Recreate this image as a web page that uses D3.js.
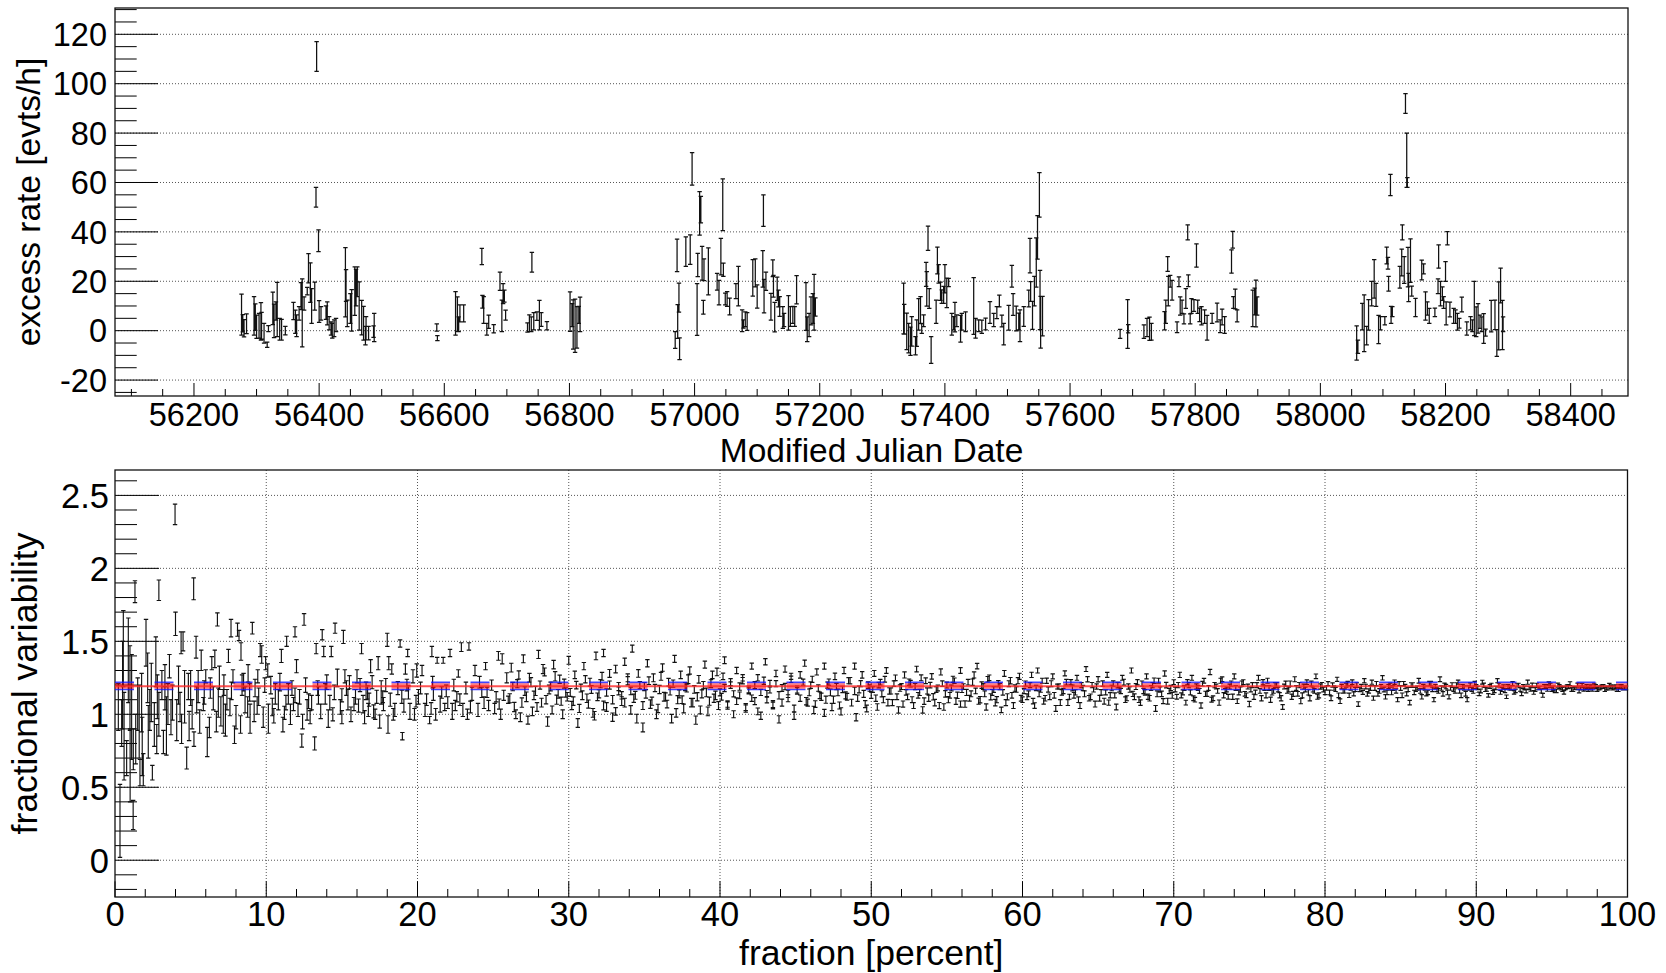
<!DOCTYPE html>
<html><head><meta charset="utf-8">
<script src="https://cdn.jsdelivr.net/npm/d3@7/dist/d3.min.js"></script>
<style>
html,body{margin:0;padding:0;background:#fff;overflow:hidden;}
svg{display:block;}
text{font-family:"Liberation Sans",Arial,Helvetica,sans-serif;fill:#000;}
</style></head><body>
<svg id="chart" width="1666" height="973"></svg>
<script>
// ================= DATA =================
// --- light curve (top panel): MJD, excess rate [evts/h], error ---
const lcMJD=[
56276,56278,56280,56284,56296,56298,56300,56304,56307,56308,
56312,56317,56319,56326,56328,56331,56333,56337,56340,56346,
56359,56362,56364,56368,56371,56373,56376,56381,56383,56386,
56388,56393,56395,56396,56399,56400,56403,56411,56413,56416,
56419,56421,56424,56427,56442,56443,56445,56450,56452,56457,
56459,56461,56464,56468,56471,56474,56475,56479,56487,56488,
56588,56589,56618,56621,56623,56625,56631,56660,56661,56663,
56668,56671,56679,56689,56692,56694,56696,56698,56733,56736,
56739,56740,56743,56748,56752,56755,56764,56801,56804,56806,
56809,56812,56815,56817,
56969,56972,56973,56975,56976,56986,56993,56996,57004,57005,
57008,57010,57012,57014,57015,57022,57036,57039,57042,57045,
57046,57049,57052,57056,57066,57070,57076,57078,57081,57084,
57093,57097,57100,57109,57110,57111,57114,57122,57125,57126,
57128,57132,57134,57136,57141,57143,57150,57153,57157,57160,
57163,57178,57180,57183,57186,57189,57191,57193,
57334,57335,57339,57342,57345,57347,57353,57355,57358,57361,
57363,57366,57370,57371,57373,57375,57378,57386,57388,57390,
57393,57395,57398,57400,57403,57406,57411,57414,57416,57419,
57425,57427,57433,57446,57449,57454,57459,57465,57472,57478,
57483,57487,57491,57494,57502,57507,57509,57514,57518,57520,
57526,57534,57536,57537,57540,57543,57546,57548,57551,57552,
57553,57556,
57680,57692,57693,57718,57723,57727,57730,57751,57753,57756,
57757,57760,57763,57771,57774,57776,57779,57782,57785,57788,
57789,57792,57794,57798,57802,57804,57807,57810,57815,57819,
57827,57835,57840,57843,57847,57858,57860,57861,57864,57867,
57892,57895,57897,57899,
58058,58060,58067,58070,58074,58077,58082,58086,58089,58093,
58096,58103,58106,58108,58109,58112,58113,58115,58127,58130,
58131,58134,58136,58138,58139,58140,58141,58144,58146,58152,
58162,58165,58168,58171,58174,58183,58188,58189,58192,58195,
58197,58200,58201,58203,58207,58213,58216,58219,58222,58226,
58234,58240,58243,58246,58249,58252,58255,58258,58261,58264,
58273,58279,58282,58285,58288,58291,58292];
const lcRate=[
6.5,3,1,2.8,6,5.5,1.6,2,3.8,2,
-1,-5.7,0.8,9,4,8,8.6,0.6,0.4,0,
8,3.6,2,7,14,7.2,11,16,25.3,19.5,
10,14,54,111,36.4,7.8,7,7.3,7,3,
0.9,0,1,2.3,19.6,18.3,7,9,8.2,16,
17.4,19.8,10,5.3,3,-2,1,-1,-0.4,1.3,
1.3,-3,7,6.7,2.6,7,7,30,11.7,8.4,
0.6,3.6,0.8,20,6,15,14,6.3,1.3,3,
2.6,27.7,3.8,5.9,6.3,4.5,2,7.7,6.3,2.5,
2,1.3,6.4,6.6,
-3.8,30.5,3.7,13.4,-7.3,32,32.8,65.5,8.6,26.6,
47.5,49,27.3,9.5,24.7,24,19.8,15.4,30,51,
24.7,12.8,12.8,9.8,16,18,4,2.7,4.6,3.7,
21.4,23.4,13.8,25,48.6,14,20,9.7,25.3,18,
5.5,17,13,9.8,5.3,4.3,7.2,5.7,6.4,5.7,
16.6,9.8,0.6,2.3,8,9,11.5,9.6,
9,4.6,-0.3,-3,-4.3,-0.3,-6.1,-1,6.6,8.4,
0.9,4,22.8,16.9,37.4,13,-7.8,7.7,28.4,23,
16,13.8,14.5,21,15.3,19.5,2.6,3,5.5,4,
0.8,3.6,3.6,10,1,2,1.6,2.7,7.4,4.3,
7.3,12,3.9,-1.4,5.2,22,10.6,4.9,3.7,2,
5.7,13,30.4,15.9,6.2,16,27.6,37.8,55,12.4,
3.4,5.9,
-1.3,2.7,0.8,-0.4,1.3,0.8,-0.4,4,7.7,27,
16,20,16.4,1.4,19.8,10,9.7,4.8,13,39.8,
20.2,4.8,10,10.2,30.4,9.7,6.4,6,5.7,1.2,
5,7.4,1.8,5.5,2.3,28,36.8,11.4,12.8,6,
9,11.8,11,10,
-5,-6.5,5.7,3,-2,6.4,15,21,14.5,0.5,
3,4,30.4,27.3,19,59,6.4,7.7,21.6,27.6,
39.8,24.6,92,69,60,25.7,17.5,28.4,16,9.4,
24.6,25,10,9,6,7.4,18,30,15,15,
11.4,24,7,37.4,8.6,6,5.7,3.6,3,10.6,
0.9,3,2,9,3.6,5,3.6,2.6,0.9,-0.8,
5.9,6.4,-5,6,18.3,2.3,2.6];
const lcErr=[
8.3,3.5,3.5,4,7.8,5.4,4.7,5,7.6,5.4,
4,1.1,1.2,6.6,6.8,3.7,11,4.4,4.2,1.7,
3.5,4.7,4.4,2.7,5.5,13.8,2.7,1.5,5.9,8,
7,5.7,4,6,4.4,4.4,2.7,2.7,4.7,2.7,
2.7,3,3.4,2.7,14,6.4,5.4,6,8.4,9.8,
7.4,6,9.8,7,6.8,3.7,4.7,2.7,2.3,5.7,
1.5,1,8.8,7,3,3.4,3.4,3.3,2.6,5.4,
2.4,2.7,1.7,3.7,6.4,4,2.4,2,1.9,3.4,
3,4,3.5,1.7,6,2.8,1.7,8,4.7,10,
10.8,8.4,3.4,7,
3.4,6.6,6.8,5.9,4.4,6,6,6.6,10.5,4.7,
8.8,5.4,6.8,2.8,4.4,9.5,3.4,5,7.4,10.5,
2.7,2.4,3,3.4,3,8,4.4,1.7,3,3.6,
7.4,5.7,4.7,7.4,6.4,6.8,3.7,5.4,3.4,4.4,
6,4.7,3.4,4,4.4,2.7,7,4,3.4,4,
5.7,9.7,5,4.7,5.7,6,11.3,3.7,
10.3,6,7.4,6,5.7,6,3.7,5.4,6.4,5.4,
2,2.4,4.9,7,4.9,4,5.4,4.7,5.4,3.7,
3.7,2.7,3.4,5.7,6,1.7,4.4,2.7,6,2.4,
5.4,3.4,4,11.5,4,2.4,2.7,2.4,4.4,2.7,
2.4,2.4,2.4,4.4,5,4.4,4.4,5,3.4,6.4,
4,3.4,7,4,5.7,6,10,8.8,9,12,
10.5,8,
1.8,9.9,1.7,2.7,3.7,4.7,3.4,3.7,4.7,3,
6,2.4,4,2.2,2,3.7,2.7,2,4,3,
2.4,2,3,2.4,4.7,2.7,2.7,3.7,2.7,5,
2,3.8,2.6,3.2,3.4,4.7,3.4,2.4,4,2.4,
7.4,5.4,9.5,3.7,
6.9,2.7,5.4,11.5,3.7,6.2,5,7.8,4.7,5.7,
2.7,1.7,3.4,2.4,3,4.3,3.4,2,4.4,5.4,
3,5.4,4,11,2,8,5.7,8.8,2,3.7,
4,2,5.7,2.7,3,1.7,3,4.7,5,2.7,
2.4,4,4.7,2.7,3,3,2.7,3.4,2,3,
2.7,2.7,2.4,11,6,6,2.7,3,6,1.4,
6.4,6,5.4,13.8,7,10,3];

// --- fractional variability (bottom panel): fraction [%], Fvar, error ---
const fvPct=[
0.22,0.33,0.44,0.55,0.77,0.88,0.99,1.2,1.1,1.21,
1.32,1.37,1.5,1.65,1.76,1.87,2.05,2.16,2.3,2.47,
2.6,2.7,2.76,2.9,3.1,3.2,3.3,3.4,3.5,3.6,
3.97,4.0,4.08,4.2,4.37,4.5,4.6,4.74,4.85,5.0,
5.2,5.22,5.36,5.5,5.7,5.84,6.0,6.1,6.24,6.4,
6.5,6.6,6.77,6.83,7.0,7.16,7.3,7.5,7.67,7.7,
7.8,7.9,8.1,8.2,8.33,8.5,8.6,8.77,8.93,9.08,
9.26,9.44,9.6,9.7,9.8,9.96,10.1,10.14,10.6,10.8,
11.0,11.2,11.35,11.46,11.6,11.8,11.9,12.0,12.1,12.35,
12.5,12.7,12.9,13.2,13.3,13.45,13.7,13.8,13.9,14.1,
14.3,14.55,14.7,15.0,15.1,15.2,15.4,15.8,16.0,16.3,
16.4,16.6,16.75,16.9,17.2,17.4,17.6,17.75,18.0,18.05,
18.1,18.3,18.5,18.85,18.96,19.0,19.2,19.35,19.5,19.7,
19.95,20.06,20.3,20.5,20.8,20.95,21.05,21.3,21.5,21.7,
21.8,22.15,22.3,22.5,22.7,22.9,23.0,23.4,23.6,23.8,
24.0,24.25,24.5,24.7,25.1,25.35,25.6,25.7,26.0,
0.6,1.6,2.4,2.9,3.8,4.4,5.1,5.6,6.3,6.9,
7.4,8.0,8.4,8.8,9.2,9.5,10.3,10.4,10.9,11.1,
11.7,12.2,12.6,13.0,13.6,14.0,14.2,14.5,14.9,15.3,
15.6,15.9,16.2,16.5,16.8,17.0,17.3,17.5,17.9,18.2,
18.7,19.1,19.4,19.8,20.2,20.6,21.0,21.2,21.6,22.0,
22.4,22.8,23.2,23.5,24.1,24.4,24.9,25.2,25.5,25.9,
0.5,1.0,1.8,2.2,2.8,3.3,3.7,4.3,4.9,5.4,
5.9,6.7,7.2,7.6,8.3,8.9,9.4,9.9,10.5,11.3,
11.9,12.4,12.8,13.4,14.4,15.0,15.5,16.1,16.7,17.1,
17.7,18.4,19.3,19.9,20.9,21.9,22.6,23.3,24.6,25.4,
26.2,26.4,26.6,26.8,27.0,27.2,27.4,27.6,27.8,28.0,
28.2,28.4,28.6,28.8,29.0,29.2,29.4,29.6,29.8,30.0,
30.2,30.4,30.6,30.8,31.0,31.2,31.4,31.6,31.8,32.0,
32.2,32.3,32.5,32.7,32.9,33.1,33.3,33.5,33.7,33.9,
34.1,34.2,34.4,34.6,34.9,35.0,35.2,35.4,35.6,35.8,
36.0,36.2,36.4,36.6,36.8,37.0,37.2,37.4,37.6,37.8,
38.0,38.2,38.4,38.6,38.8,39.0,39.2,39.4,39.6,39.8,
40.0,40.2,40.3,40.5,40.7,40.9,41.1,41.3,41.5,41.7,
41.9,42.1,42.3,42.5,42.7,43.0,43.1,43.3,43.5,43.7,
43.9,44.1,44.3,44.5,44.7,44.9,45.1,45.3,45.6,45.8,
46.0,46.2,46.4,46.6,46.9,47.0,47.2,47.4,47.6,47.8,
48.0,48.2,48.4,48.6,48.9,49.0,49.2,49.4,49.6,49.8,
50.0,50.2,50.4,50.6,50.8,51.0,51.2,51.4,51.6,51.8,
52.0,52.2,52.4,52.6,52.8,53.0,53.2,53.4,53.6,53.8,
54.0,54.2,54.4,54.6,54.8,55.0,55.2,55.4,55.6,55.9,
56.0,56.2,56.4,56.6,56.8,57.0,57.2,57.4,57.6,57.8,
58.0,58.2,58.4,58.6,58.8,59.0,59.2,59.4,59.6,59.8,
60.0,60.2,60.4,60.6,60.8,61.0,61.2,61.4,61.6,61.8,
62.0,62.2,62.4,62.6,62.8,63.0,63.2,63.4,63.6,63.8,
64.0,64.2,64.4,64.6,64.8,65.0,65.2,65.4,65.6,65.8,
66.0,66.2,66.4,66.6,66.8,67.0,67.2,67.4,67.6,67.8,
68.0,68.2,68.4,68.6,68.8,69.0,69.2,69.4,69.6,69.8,
70.0,70.2,70.4,70.6,70.8,71.0,71.2,71.4,71.6,71.8,
72.0,72.2,72.4,72.6,72.8,73.0,73.2,73.4,73.6,73.8,
74.0,74.2,74.4,74.6,74.8,75.0,75.2,75.4,75.6,75.8,
76.0,76.2,76.4,76.6,76.8,77.0,77.2,77.4,77.6,77.8,
78.0,78.2,78.4,78.6,78.8,79.0,79.2,79.4,79.6,79.8,
80.0,80.2,80.4,80.6,80.8,81.0,81.2,81.4,81.6,81.8,
82.0,82.2,82.4,82.6,82.8,83.0,83.2,83.4,83.6,83.8,
84.0,84.2,84.4,84.6,84.8,85.0,85.2,85.4,85.6,85.8,
86.0,86.2,86.4,86.6,86.8,87.0,87.2,87.4,87.6,87.8,
88.0,88.2,88.4,88.6,88.8,89.0,89.2,89.4,89.6,89.8,
90.0,90.2,90.4,90.6,90.8,91.0,91.2,91.4,91.6,91.8,
92.0,92.2,92.4,92.6,92.8,93.0,93.2,93.4,93.6,93.8,
94.0,94.2,94.4,94.6,94.8,95.0,95.2,95.4,95.6,95.8,
96.0,96.2,96.4,96.6,96.8,97.0,97.2,97.4,97.6,97.8,
98.0,98.2,98.4,98.6,98.8,99.0,99.2,99.4,99.6,99.8,
26.1,26.3,26.5,26.7,26.9,27.1,27.3,27.5,27.7,27.9,
28.1,28.3,28.5,28.7,28.9,29.1,29.3,29.5,29.7,29.9,
30.1,30.3,30.5,30.7,30.9,31.1,31.3,31.5,31.7,31.9,
32.1,32.3,32.5,32.7,32.9,33.1,33.3,33.5,33.7,33.9,
34.1,34.3,34.5,34.7,34.9,35.1,35.3,35.5,35.7,35.9,
36.1,36.3,36.5,36.7,36.9,37.1,37.3,37.5,37.7,37.9,
38.1,38.3,38.5,38.7,38.9,39.1,39.3,39.5,39.7,39.9,
40.1,40.3,40.5,40.7,40.9,41.1,41.3,41.5,41.7,41.9,
42.1,42.3,42.5,42.7,42.9,43.1,43.3,43.5,43.7,43.9,
44.1,44.3,44.5,44.7,44.9,45.1,45.3,45.5,45.7,45.9,
46.1,46.3,46.5,46.7,46.9,47.1,47.3,47.5,47.7,47.9,
48.1,48.3,48.5,48.7,48.9,49.1,49.3,49.5,49.7,49.9,
50.1,50.3,50.5,50.7,50.9,51.1,51.3,51.5,51.7,51.9,
52.1,52.3,52.5,52.7,52.9,53.1,53.3,53.5,53.7,53.9,
54.1,54.3,54.5,54.7,54.9,55.1,55.3,55.5,55.7,55.9,
56.1,56.3,56.5,56.7,56.9,57.1,57.3,57.5,57.7,57.9,
58.1,58.3,58.5,58.7,58.9,59.1,59.3,59.5,59.7,59.9,
60.1,60.3,60.5,60.7,60.9,61.1,61.3,61.5,61.7,61.9,
62.1,62.3,62.5,62.7,62.9,63.1,63.3,63.5,63.7,63.9,
64.1,64.3,64.5,64.7,64.9,65.1,65.3,65.5,65.7,65.9,
66.1,66.3,66.5,66.7,66.9,67.1,67.3,67.5,67.7,67.9,
68.1,68.3,68.5,68.7,68.9,69.1,69.3,69.5,69.7,69.9,
70.1,70.3,70.5,70.7,70.9,71.1,71.3,71.5,71.7,71.9,
72.1,72.3,72.5,72.7,72.9,73.1,73.3,73.5,73.7,73.9,
74.1,74.3,74.5,74.7,74.9,75.1,75.3,75.5,75.7,75.9,
76.1,76.3,76.5,76.7,76.9,77.1,77.3,77.5,77.7,77.9,
78.1,78.3,78.5,78.7,78.9,79.1,79.3,79.5,79.7,79.9,
80.1,80.3,80.5,80.7,80.9,81.1,81.3,81.5,81.7,81.9,
82.1,82.3,82.5,82.7,82.9,83.1,83.3,83.5,83.7,83.9,
84.1,84.3,84.5,84.7,84.9,85.1,85.3,85.5,85.7,85.9,
86.1,86.3,86.5,86.7,86.9,87.1,87.3,87.5,87.7,87.9,
88.1,88.3,88.5,88.7,88.9,89.1,89.3,89.5,89.7,89.9,
90.1,90.3,90.5,90.7,90.9,91.1,91.3,91.5,91.7,91.9,
92.1,92.3,92.5,92.7,92.9,93.1,93.3,93.5,93.7,93.9,
94.1,94.3,94.5,94.7,94.9,95.1,95.3,95.5,95.7,95.9,
96.1,96.3,96.5,96.7,96.9,97.1,97.3,97.5,97.7,97.9,
98.1,98.3,98.5,98.7,98.9,99.1,99.3,99.5,99.7,99.9];
const fvVal=[
1.05,0.27,0.94,1.45,0.70,1.37,1.18,0.31,1.05,0.76,
1.84,0.83,1.07,0.6,1.08,0.62,1.49,1.25,1.03,0.6,
0.93,1.36,0.83,1.85,1.2,0.81,1.11,0.92,1.07,1.33,
2.37,1.62,0.96,1.2,1.49,1.5,1.12,0.7,1.19,1.18,
1.86,0.83,1.46,1.19,1.37,1.07,1.26,0.81,0.91,1.35,
1.11,1.38,1.65,1.08,1.02,1.02,0.96,1.4,1.59,1.16,
1.26,0.86,1.58,1.54,1.43,1.22,1.1,1.05,0.97,1.59,
1.18,1.26,1.44,1.41,0.98,1.35,1.3,0.97,1.14,1.1,
1.4,1.01,1.5,1.14,1.0,1.07,1.565,1.33,1.03,0.82,
1.65,1.03,0.98,0.8,1.45,1.13,1.545,1.43,1.14,0.97,
1.43,1.59,1.25,0.98,1.53,1.26,1.1,1.07,1.26,1.45,
1.07,1.16,1.03,1.33,1.0,1.35,1.15,1.07,1.51,0.93,
1.35,1.31,1.03,1.485,1.12,0.85,1.31,1.42,1.02,1.26,
1.3,1.12,1.3,1.03,0.96,1.43,1.14,1.37,1.07,1.37,
1.05,1.42,1.02,1.06,1.28,1.46,1.03,1.465,1.14,1.3,
1.03,1.15,1.33,1.06,1.04,1.4,1.38,1.13,1.1,
0.85,0.95,1.15,1.0,1.08,0.9,1.0,0.95,1.18,1.25,
1.1,0.98,1.2,1.28,1.02,1.12,1.2,1.05,1.22,0.93,
1.18,1.12,1.2,1.08,1.02,1.22,1.08,1.15,1.05,1.18,
1.0,1.12,1.2,0.98,1.1,1.22,1.12,0.95,1.2,1.1,
1.18,1.06,1.15,1.0,1.18,1.1,1.22,1.0,1.15,1.08,
1.2,1.1,1.18,1.05,1.22,1.08,1.2,1.12,1.0,1.25,
1.2,0.65,0.78,0.88,1.12,1.22,0.98,1.05,0.92,1.1,
1.15,0.95,1.2,1.05,0.93,1.15,1.06,1.2,0.99,1.08,
1.13,0.95,1.09,1.18,1.0,1.13,1.22,1.06,1.15,1.02,
1.12,1.0,1.2,1.09,1.04,1.16,1.12,1.0,1.15,1.07,
1.32,1.05,1.21,0.98,1.38,1.12,1.25,1.02,1.16,1.41,
1.08,1.29,0.95,1.19,1.34,1.1,1.24,1.0,1.15,1.37,
1.06,1.27,0.94,1.18,1.33,1.11,1.22,1.01,1.4,1.14,
1.26,1.42,1.05,1.2,0.98,1.31,1.16,1.09,1.36,1.23,
1.03,1.45,1.13,1.28,0.91,1.19,1.35,1.07,1.25,1.0,
1.17,1.32,1.12,1.22,0.97,1.38,1.1,1.27,1.04,1.18,
1.3,1.08,0.96,1.24,1.14,1.34,1.02,1.21,1.11,1.29,
1.15,1.26,1.37,1.06,1.2,1.0,1.3,1.13,1.23,1.04,
1.17,1.33,1.09,1.25,0.99,1.36,1.14,1.21,1.07,1.28,
0.965,1.18,1.31,1.11,1.24,0.99,1.16,1.27,1.35,1.08,
1.2,1.03,1.29,1.13,1.33,1.1,1.22,1.05,1.26,1.15,
1.02,1.3,1.12,1.23,1.33,0.98,1.17,1.27,1.07,1.2,
1.13,1.28,1.05,1.22,1.1,1.3,1.16,1.08,1.25,1.03,
1.19,1.27,1.12,1.21,1.06,1.31,1.15,1.03,1.23,1.11,
1.26,1.08,1.18,1.29,1.05,1.2,1.13,1.24,1.09,1.3,
1.17,1.07,1.22,1.14,1.27,1.33,1.1,1.19,1.05,1.25,
1.15,1.08,1.21,1.03,1.28,1.12,1.23,1.06,1.17,1.26,
1.1,1.21,1.14,1.27,1.06,1.3,1.17,1.09,1.23,1.12,
1.26,1.04,1.19,1.15,1.28,1.08,1.22,1.13,1.25,1.06,
1.18,1.31,1.11,1.2,1.07,1.24,1.15,1.09,1.27,1.13,
1.21,1.05,1.17,1.25,1.1,1.19,1.3,1.12,1.22,1.08,
1.16,1.26,1.11,1.2,1.04,1.23,1.14,1.28,1.09,1.18,
1.22,1.12,1.27,1.15,1.08,1.2,1.25,1.1,1.18,1.06,
1.23,1.14,1.29,1.11,1.19,1.08,1.24,1.16,1.12,1.21,
1.26,1.09,1.17,1.22,1.13,1.07,1.2,1.15,1.25,1.11,
1.18,1.23,1.1,1.16,1.2,1.13,1.05,1.21,1.17,1.12,
1.24,1.14,1.09,1.19,1.22,1.11,1.17,1.26,1.13,1.2,
1.15,1.21,1.11,1.18,1.24,1.09,1.16,1.2,1.13,1.22,
1.17,1.07,1.19,1.23,1.14,1.18,1.11,1.21,1.16,1.25,
1.12,1.19,1.15,1.22,1.1,1.18,1.21,1.14,1.08,1.2,
1.17,1.23,1.12,1.18,1.15,1.21,1.1,1.17,1.24,1.14,
1.19,1.12,1.2,1.16,1.22,1.13,1.18,1.1,1.2,1.16,
1.19,1.14,1.22,1.17,1.13,1.2,1.16,1.23,1.15,1.19,
1.12,1.18,1.21,1.16,1.2,1.14,1.18,1.22,1.17,1.15,
1.2,1.18,1.13,1.19,1.21,1.17,1.16,1.2,1.18,1.15,
1.19,1.21,1.17,1.18,1.16,1.2,1.18,1.17,1.19,1.2,
1.17,1.18,1.19,1.18,1.2,1.18,1.19,1.17,1.19,1.18,
1.11,1.19,1.0,1.27,1.08,1.16,0.96,1.22,1.13,1.05,
1.2,1.31,1.1,1.17,1.03,1.26,1.14,1.09,1.21,1.12,
1.15,1.09,1.2,1.04,1.13,1.24,1.07,1.17,0.99,1.12,
1.21,1.06,1.15,1.28,1.1,1.02,1.19,1.13,1.08,1.25,
1.16,1.11,0.97,1.2,1.06,1.14,1.23,1.09,1.18,1.04,
1.26,1.12,1.07,1.16,1.21,1.01,1.14,1.1,1.19,1.24,
1.08,1.17,1.12,1.03,1.2,1.15,1.09,1.27,1.13,1.06,
1.12,1.18,1.07,1.22,1.14,1.09,1.19,1.25,1.05,1.16,
1.11,1.2,1.02,1.15,1.23,1.1,1.17,1.06,1.21,1.13,
1.08,1.19,1.14,1.26,1.04,1.17,1.11,1.22,1.09,1.15,
1.24,1.07,1.18,1.12,1.01,1.2,1.15,1.1,1.19,1.06,
1.17,1.13,1.23,1.08,1.16,1.11,1.21,1.14,1.04,1.18,
1.17,1.11,1.2,1.14,1.24,1.08,1.16,1.21,1.12,1.18,
1.07,1.15,1.22,1.1,1.19,1.13,1.25,1.09,1.16,1.2,
1.12,1.17,1.06,1.21,1.14,1.1,1.18,1.23,1.13,1.07,
1.19,1.15,1.11,1.22,1.16,1.09,1.2,1.14,1.24,1.12,
1.17,1.1,1.19,1.15,1.08,1.21,1.13,1.18,1.23,1.11,
1.16,1.12,1.2,1.09,1.18,1.14,1.23,1.11,1.17,1.21,
1.13,1.19,1.08,1.16,1.22,1.12,1.18,1.15,1.1,1.2,
1.14,1.24,1.12,1.17,1.19,1.11,1.21,1.15,1.08,1.18,
1.13,1.2,1.16,1.22,1.11,1.17,1.14,1.19,1.1,1.21,
1.15,1.12,1.18,1.23,1.14,1.17,1.09,1.2,1.16,1.13,
1.17,1.2,1.13,1.18,1.22,1.15,1.11,1.19,1.16,1.21,
1.14,1.18,1.1,1.2,1.16,1.23,1.13,1.17,1.19,1.12,
1.18,1.15,1.21,1.14,1.19,1.17,1.12,1.2,1.16,1.22,
1.13,1.18,1.15,1.2,1.17,1.11,1.19,1.16,1.21,1.14,
1.18,1.2,1.13,1.17,1.15,1.21,1.16,1.12,1.19,1.17,
1.18,1.15,1.2,1.17,1.13,1.19,1.16,1.21,1.18,1.14,
1.2,1.17,1.15,1.19,1.16,1.22,1.18,1.14,1.19,1.17,
1.15,1.2,1.18,1.16,1.21,1.13,1.19,1.17,1.2,1.15,
1.18,1.16,1.19,1.14,1.21,1.17,1.19,1.16,1.18,1.2,
1.15,1.18,1.17,1.2,1.16,1.19,1.14,1.18,1.17,1.21,
1.18,1.16,1.2,1.17,1.19,1.15,1.18,1.2,1.17,1.16,
1.19,1.18,1.15,1.2,1.17,1.19,1.16,1.18,1.2,1.17,
1.18,1.16,1.19,1.17,1.2,1.18,1.16,1.19,1.17,1.18,
1.19,1.17,1.18,1.2,1.18,1.17,1.19,1.18,1.17,1.19,
1.18,1.19,1.17,1.18,1.19,1.18,1.17,1.19,1.18,1.18];
const fvErr=[
0.16,0.25,0.16,0.26,0.12,0.29,0.29,0.10,0.36,0.14,
0.075,0.17,0.18,0.09,0.2,0.11,0.16,0.17,0.14,0.05,
0.15,0.17,0.1,0.07,0.1,0.08,0.08,0.2,0.14,0.08,
0.07,0.08,0.14,0.13,0.075,0.065,0.18,0.075,0.09,0.12,
0.075,0.05,0.075,0.11,0.07,0.045,0.045,0.1,0.07,0.045,
0.08,0.06,0.045,0.1,0.1,0.15,0.11,0.045,0.06,0.06,
0.045,0.06,0.045,0.035,0.06,0.06,0.09,0.07,0.1,0.04,
0.06,0.045,0.045,0.06,0.07,0.045,0.045,0.1,0.07,0.07,
0.045,0.045,0.035,0.07,0.07,0.045,0.035,0.045,0.045,0.045,
0.04,0.07,0.045,0.045,0.035,0.06,0.035,0.035,0.07,0.06,
0.035,0.035,0.06,0.045,0.045,0.045,0.07,0.045,0.045,0.035,
0.06,0.06,0.045,0.045,0.035,0.045,0.08,0.045,0.045,0.06,
0.045,0.035,0.045,0.025,0.045,0.025,0.035,0.025,0.055,0.045,
0.045,0.05,0.035,0.045,0.025,0.035,0.045,0.02,0.055,0.02,
0.025,0.025,0.055,0.035,0.025,0.03,0.045,0.025,0.045,0.035,
0.045,0.035,0.025,0.035,0.035,0.03,0.035,0.035,0.025,
0.3,0.25,0.2,0.15,0.12,0.1,0.1,0.08,0.07,0.08,
0.07,0.08,0.07,0.06,0.07,0.06,0.06,0.06,0.06,0.05,
0.05,0.05,0.05,0.05,0.05,0.05,0.05,0.05,0.05,0.05,
0.05,0.05,0.045,0.045,0.045,0.045,0.045,0.045,0.045,0.045,
0.045,0.045,0.045,0.04,0.04,0.04,0.04,0.04,0.04,0.04,
0.04,0.04,0.04,0.04,0.04,0.04,0.035,0.035,0.035,0.035,
0.3,0.25,0.2,0.18,0.15,0.12,0.12,0.1,0.1,0.09,
0.08,0.07,0.07,0.06,0.06,0.06,0.06,0.05,0.05,0.05,
0.05,0.05,0.05,0.05,0.045,0.045,0.045,0.045,0.045,0.045,
0.04,0.04,0.04,0.04,0.04,0.04,0.035,0.035,0.035,0.035,
.03,.032,.028,.03,.027,.033,.03,.029,.031,.028,
.03,.027,.032,.03,.029,.031,.028,.03,.032,.027,
.028,.026,.03,.027,.025,.029,.027,.03,.026,.028,
.027,.025,.03,.028,.029,.026,.027,.03,.025,.028,
.029,.024,.027,.026,.03,.028,.025,.029,.027,.03,
.028,.025,.027,.026,.029,.024,.028,.026,.03,.027,
.025,.029,.028,.026,.027,.024,.03,.027,.028,.026,
.024,.022,.023,.025,.022,.024,.021,.023,.022,.025,
.023,.021,.024,.022,.025,.021,.023,.022,.024,.022,
.025,.023,.021,.024,.022,.025,.023,.022,.021,.024,
.022,.025,.021,.023,.021,.024,.022,.025,.022,.023,
.025,.021,.023,.022,.021,.025,.023,.022,.024,.022,
.021,.02,.022,.019,.021,.02,.022,.021,.019,.022,
.02,.021,.019,.022,.02,.019,.021,.022,.02,.021,
.019,.022,.02,.021,.022,.02,.019,.021,.022,.02,
.021,.022,.019,.02,.021,.019,.022,.02,.021,.019,
.02,.022,.021,.019,.02,.021,.022,.02,.019,.021,
.019,.018,.02,.018,.019,.017,.019,.02,.018,.019,
.017,.02,.018,.019,.017,.02,.018,.019,.017,.02,
.018,.017,.019,.018,.02,.018,.019,.02,.017,.018,
.019,.02,.018,.017,.019,.018,.017,.02,.018,.019,
.018,.017,.019,.018,.02,.017,.019,.018,.02,.018,
.017,.016,.018,.017,.016,.018,.017,.016,.017,.018,
.016,.017,.018,.016,.017,.018,.016,.017,.016,.018,
.017,.016,.018,.017,.016,.018,.017,.016,.017,.018,
.016,.017,.018,.016,.017,.018,.016,.017,.016,.018,
.017,.016,.018,.017,.016,.018,.017,.016,.017,.018,
.015,.014,.016,.015,.014,.016,.015,.014,.015,.016,
.014,.016,.015,.014,.015,.016,.014,.015,.016,.015,
.015,.014,.016,.015,.014,.016,.015,.014,.015,.016,
.014,.016,.015,.014,.015,.016,.014,.015,.016,.015,
.015,.014,.016,.015,.014,.016,.015,.014,.015,.016,
.013,.012,.013,.014,.012,.013,.012,.014,.013,.012,
.012,.013,.014,.012,.013,.012,.013,.014,.012,.013,
.013,.012,.013,.014,.012,.013,.012,.014,.013,.012,
.012,.013,.014,.012,.013,.012,.013,.014,.012,.013,
.013,.012,.013,.014,.012,.013,.012,.014,.013,.012,
.031,.029,.03,.028,.032,.03,.027,.031,.029,.03,
.028,.031,.029,.03,.027,.032,.03,.028,.031,.029,
.027,.029,.026,.028,.03,.025,.028,.027,.029,.026,
.028,.03,.025,.027,.029,.026,.028,.025,.03,.027,
.026,.028,.03,.025,.027,.029,.026,.028,.025,.029,
.027,.03,.026,.028,.025,.029,.027,.026,.028,.03,
.029,.026,.028,.027,.025,.03,.028,.026,.029,.027,
.023,.025,.022,.024,.021,.023,.025,.022,.024,.021,
.022,.024,.023,.021,.025,.022,.024,.023,.021,.025,
.024,.022,.025,.021,.023,.024,.022,.021,.025,.023,
.021,.023,.022,.025,.024,.021,.023,.025,.022,.024,
.022,.024,.021,.023,.025,.022,.021,.024,.023,.022,
.02,.022,.019,.021,.02,.022,.021,.019,.02,.022,
.021,.019,.022,.02,.021,.019,.02,.022,.021,.019,
.022,.02,.021,.019,.022,.021,.02,.019,.022,.021,
.019,.021,.02,.022,.019,.021,.022,.02,.019,.021,
.02,.021,.022,.019,.021,.02,.019,.022,.021,.02,
.018,.02,.017,.019,.018,.02,.017,.019,.018,.02,
.019,.017,.02,.018,.019,.017,.02,.018,.019,.017,
.02,.018,.019,.017,.018,.02,.019,.017,.018,.019,
.017,.019,.018,.02,.017,.019,.018,.02,.019,.018,
.019,.018,.017,.019,.02,.018,.017,.019,.018,.02,
.016,.018,.017,.016,.018,.017,.016,.018,.017,.016,
.018,.016,.017,.018,.016,.017,.018,.016,.017,.018,
.016,.017,.018,.016,.017,.016,.018,.017,.016,.018,
.017,.016,.018,.017,.016,.018,.017,.016,.018,.017,
.016,.018,.017,.016,.018,.017,.016,.017,.018,.016,
.014,.016,.015,.014,.016,.015,.014,.016,.015,.014,
.016,.015,.014,.016,.015,.014,.016,.015,.014,.016,
.015,.014,.016,.015,.014,.016,.015,.014,.016,.015,
.014,.016,.015,.014,.016,.015,.014,.016,.015,.014,
.016,.015,.014,.016,.015,.014,.016,.015,.014,.016,
.012,.013,.014,.012,.013,.014,.012,.013,.014,.012,
.013,.014,.012,.013,.012,.014,.013,.012,.014,.013,
.012,.014,.013,.012,.013,.014,.012,.013,.014,.012,
.014,.013,.012,.014,.013,.012,.014,.013,.012,.014,
.013,.012,.014,.013,.012,.013,.014,.012,.013,.013];

// mean Fvar and its uncertainty bands
const fvMean=1.193;
const fvInnerBand=[1.175,1.212];
const fvOuterBand=[1.164,1.225];

// axes
const topXDomain=[56073.8,58491.6];
const topYDomain=[-26.45,130.65];
const botXDomain=[0,100];
const botYDomain=[-0.252,2.674];
const topXTickValues=[56200,56400,56600,56800,57000,57200,57400,57600,57800,58000,58200,58400];
const topYTickValues=[-20,0,20,40,60,80,100,120];
const botXTickValues=[0,10,20,30,40,50,60,70,80,90,100];
const botYTickValues=[0,0.5,1,1.5,2,2.5];
const botYTickLabels=["0","0.5","1","1.5","2","2.5"];
const topXTitle="Modified Julian Date";
const topYTitle="excess rate [evts/h]";
const botXTitle="fraction [percent]";
const botYTitle="fractional variability";

// ================= DRAW =================
const svg=d3.select('#chart');
svg.append('rect').attr('width',1666).attr('height',973).attr('fill','#fff');

const T={l:115,r:1628,t:8,b:396};
const B={l:115,r:1627.5,t:470,b:897};
const xT=d3.scaleLinear().domain(topXDomain).range([T.l,T.r]);
const yT=d3.scaleLinear().domain(topYDomain).range([T.b,T.t]);
const xB=d3.scaleLinear().domain(botXDomain).range([B.l,B.r]);
const yB=d3.scaleLinear().domain(botYDomain).range([B.b,B.t]);

function isMajor(v,step){return Math.abs(v/step-Math.round(v/step))<1e-6;}

function drawPanel(box,x,y,o){
  const g=svg.append('g');
  g.append('g').selectAll('line').data(o.yMajor).join('line')
    .attr('x1',box.l).attr('x2',box.r).attr('y1',d=>y(d)).attr('y2',d=>y(d))
    .attr('stroke','#555').attr('stroke-width',1).attr('stroke-dasharray','1,2');
  if(o.vgrid){
    g.append('g').selectAll('line').data(o.xMajor.filter(d=>x(d)>box.l+1&&x(d)<box.r-1)).join('line')
      .attr('y1',box.t).attr('y2',box.b).attr('x1',d=>x(d)).attr('x2',d=>x(d))
      .attr('stroke','#555').attr('stroke-width',1).attr('stroke-dasharray','1,2');
  }
  const yMinor=d3.range(o.yMinorStart,o.yMinorEnd,o.yMinorStep).filter(d=>y(d)>=box.t&&y(d)<=box.b);
  g.append('g').selectAll('line').data(yMinor).join('line')
    .attr('x1',box.l).attr('x2',d=>box.l+(isMajor(d,o.yMajorStep)?o.yMajLen:o.yMinLen))
    .attr('y1',d=>y(d)).attr('y2',d=>y(d)).attr('stroke','#000').attr('stroke-width',1);
  const xMinor=d3.range(o.xMinorStart,o.xMinorEnd,o.xMinorStep).filter(d=>x(d)>=box.l-0.5&&x(d)<=box.r+0.5);
  g.append('g').selectAll('line').data(xMinor).join('line')
    .attr('y1',box.b).attr('y2',d=>box.b-(isMajor(d,o.xMajorStep)?o.xMajLen:o.xMinLen))
    .attr('x1',d=>x(d)).attr('x2',d=>x(d)).attr('stroke','#000').attr('stroke-width',1);
  g.append('rect').attr('x',box.l).attr('y',box.t).attr('width',box.r-box.l).attr('height',box.b-box.t)
    .attr('fill','none').attr('stroke','#111').attr('stroke-width',1.3);
  g.append('g').selectAll('text').data(o.yMajor).join('text')
    .attr('x',o.yLabX).attr('y',d=>y(d)).attr('dy','0.36em').attr('text-anchor','end')
    .attr('font-size',o.tickFont).text((d,i)=>o.yLabels?o.yLabels[i]:d);
  g.append('g').selectAll('text').data(o.xMajor).join('text')
    .attr('x',d=>x(d)).attr('y',o.xLabY).attr('text-anchor','middle')
    .attr('font-size',o.tickFont).text(d=>d);
  g.append('text').attr('x',(box.l+box.r)/2).attr('y',o.xTitleY).attr('text-anchor','middle')
    .attr('font-size',o.titleFont).text(o.xTitle);
  g.append('text').attr('transform',`translate(${o.yTitleX},${(box.t+box.b)/2}) rotate(-90)`)
    .attr('text-anchor','middle').attr('font-size',o.titleFont).text(o.yTitle);
  return g;
}

function errorBars(g,xs,ys,es,x,y,cap,color,w){
  const n=Math.min(xs.length,ys.length,es.length);
  const p=d3.path();
  for(let i=0;i<n;i++){
    const px=x(xs[i]),y1=y(ys[i]+es[i]),y2=y(ys[i]-es[i]);
    p.moveTo(px,y1);p.lineTo(px,y2);
    p.moveTo(px-cap,y1);p.lineTo(px+cap,y1);
    p.moveTo(px-cap,y2);p.lineTo(px+cap,y2);
  }
  g.append('path').attr('d',p.toString()).attr('fill','none').attr('stroke',color).attr('stroke-width',w);
}

// ---- top panel ----
const gT=drawPanel(T,xT,yT,{
  yMajor:topYTickValues,xMajor:topXTickValues,vgrid:false,
  yMinorStart:-25,yMinorEnd:131,yMinorStep:5,yMajorStep:20,yMajLen:43,yMinLen:21.7,
  xMinorStart:56050,xMinorEnd:58500,xMinorStep:50,xMajorStep:200,xMajLen:13,xMinLen:7,
  yLabX:107,xLabY:426,tickFont:'32.5px',titleFont:'33.5px',
  xTitle:topXTitle,yTitle:topYTitle,xTitleY:462,yTitleX:40
});
errorBars(gT,lcMJD,lcRate,lcErr,xT,yT,2.2,'#111',1.25);

// ---- bottom panel ----
const gB=drawPanel(B,xB,yB,{
  yMajor:botYTickValues,yLabels:botYTickLabels,xMajor:botXTickValues,vgrid:true,
  yMinorStart:-0.2,yMinorEnd:2.65,yMinorStep:0.1,yMajorStep:0.5,yMajLen:44,yMinLen:22,
  xMinorStart:0,xMinorEnd:100.1,xMinorStep:2,xMajorStep:10,xMajLen:15.7,xMinLen:8,
  yLabX:109,xLabY:925.5,tickFont:'34.5px',titleFont:'35.5px',
  xTitle:botXTitle,yTitle:botYTitle,xTitleY:965,yTitleX:37
});
errorBars(gB,fvPct,fvVal,fvErr,xB,yB,2.2,'#111',1.15);

// mean value with dashed uncertainty bands
const dash='19 20.5';
const bandLine=(lo,hi,color)=>gB.append('line')
  .attr('x1',xB(botXDomain[0])).attr('x2',xB(botXDomain[1]))
  .attr('y1',(yB(lo)+yB(hi))/2).attr('y2',(yB(lo)+yB(hi))/2)
  .attr('stroke',color).attr('stroke-width',Math.abs(yB(lo)-yB(hi)))
  .attr('stroke-dasharray',dash);
bandLine(fvInnerBand[1],fvOuterBand[1],'rgba(20,20,255,0.8)');
bandLine(fvOuterBand[0],fvInnerBand[0],'rgba(20,20,255,0.8)');
bandLine(fvInnerBand[0],fvInnerBand[1],'rgba(255,0,0,0.5)');
gB.append('line').attr('x1',xB(botXDomain[0])).attr('x2',xB(botXDomain[1]))
  .attr('y1',yB(fvMean)).attr('y2',yB(fvMean))
  .attr('stroke','rgba(255,40,40,0.8)').attr('stroke-width',2);
</script>
</body></html>
